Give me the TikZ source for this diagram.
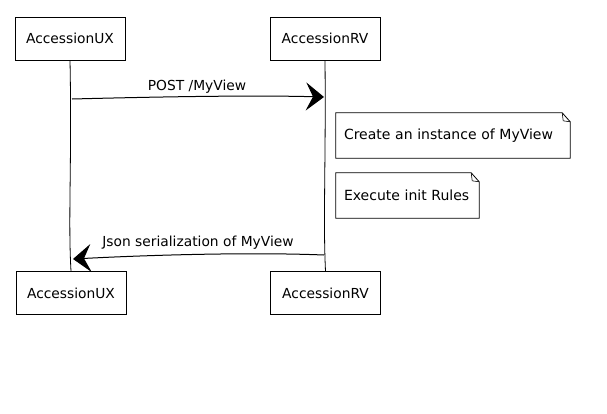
\documentclass[tikz,border=0pt]{standalone}
\usepackage{fontspec}
\setmainfont{DejaVu Sans}
\usetikzlibrary{arrows.meta}
\begin{document}
\begin{tikzpicture}[x=1pt,y=-1pt,
  actor/.style={draw=black,line width=0.8pt,rectangle,minimum width=110pt,minimum height=43pt,inner sep=0pt,font=\fontsize{13.8}{15}\selectfont},
  notebox/.style={inner xsep=8pt,inner ysep=0pt,minimum height=45pt,align=left,font=\fontsize{14}{16}\selectfont},
  life/.style={draw=black,line width=0.8pt},
  msg/.style={draw=black,line width=1pt,-{Stealth[length=18pt,width=28pt,inset=7pt]}},
  lbl/.style={font=\fontsize{13.8}{15}\selectfont}]
\useasboundingbox (0,0) rectangle (607,413);
% actors
\node[actor] (ux1) at (70,38.5) {AccessionUX};
\node[actor] (rv1) at (325,38.5) {AccessionRV};
\node[actor] (ux2) at (71,293) {AccessionUX};
\node[actor] (rv2) at (325.5,293) {AccessionRV};
% lifelines
\draw[life] (ux1.south) .. controls (72,160) and (68,220) .. (ux2.north);
\draw[life] (rv1.south) .. controls (326,160) and (323,220) .. (rv2.north);
% message 1
\coordinate (m1s) at (72,99);
\coordinate (m1e) at (324,97);
\draw[msg] (m1s) .. controls (150,97) and (250,95) .. (m1e);
\node[lbl] (l1) at (197,87) {POST /MyView};
% notes
\node[notebox,text width=218pt] (n1) at (453,135.5) {Create an instance of MyView};
\draw[line width=0.8pt] (n1.south west) -- (n1.north west) .. controls ([xshift=80pt]n1.north west) and ([xshift=-80pt]n1.north east) .. ([xshift=-8pt]n1.north east)
  -- ([yshift=-9pt]n1.north east) -- (n1.south east) -- cycle;
\draw[line width=0.6pt] ([xshift=-8pt]n1.north east) -- ([xshift=-7pt,yshift=-8pt]n1.north east) -- ([yshift=-9pt]n1.north east);
\node[notebox,text width=127pt] (n2) at (407.5,195.5) {Execute init Rules};
\draw[line width=0.8pt] (n2.south west) -- (n2.north west) -- ([xshift=-8pt]n2.north east)
  -- ([yshift=-9pt]n2.north east) -- (n2.south east) -- cycle;
\draw[line width=0.6pt] ([xshift=-8pt]n2.north east) -- ([xshift=-7pt,yshift=-8pt]n2.north east) -- ([yshift=-9pt]n2.north east);
% message 2
\coordinate (m2s) at (324,255);
\coordinate (m2e) at (73,259);
\draw[msg] (m2s) .. controls (250,252) and (150,255) .. (m2e);
\node[lbl] (l2) at (198,243) {Json serialization of MyView};
\end{tikzpicture}
\end{document}
